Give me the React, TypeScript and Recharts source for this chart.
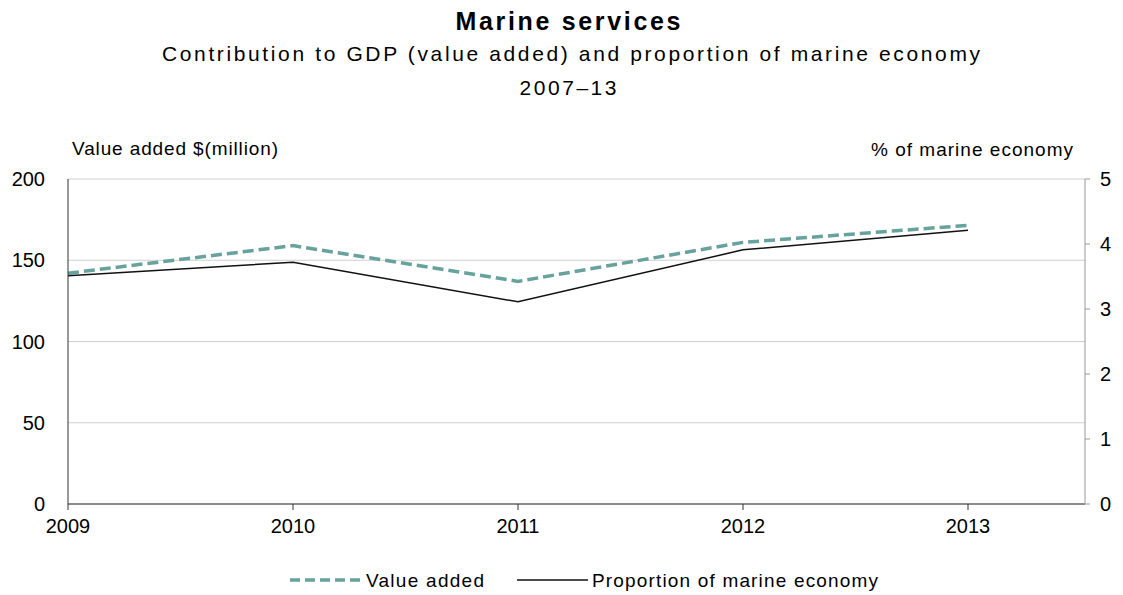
import { CartesianGrid, Line, LineChart, XAxis, YAxis } from "recharts";

const years = [2009, 2010, 2011, 2012, 2013];
const valueAdded = [142, 159, 137, 161, 171.5];
const proportion = [3.51, 3.72, 3.11, 3.91, 4.21];
const leftTicks = [0, 50, 100, 150, 200];
const rightTicks = [0, 1, 2, 3, 4, 5];

const data = years.map((year, i) => ({
  year,
  valueAdded: valueAdded[i],
  proportion: proportion[i]
}));

const font = "'Liberation Sans', Arial, sans-serif";
const teal = "#67a29c";

const Header = () => (
  <svg width={1123} height={170} style={{ position: "absolute", left: 0, top: 0 }}>
    <g fontFamily={font} fill="#000" textAnchor="middle">
      <text x={568} y={30} fontSize={25} fontWeight="bold" textLength={225} lengthAdjust="spacing">
        Marine services
      </text>
      <text x={571} y={61} fontSize={21} textLength={818} lengthAdjust="spacing">
        Contribution to GDP (value added) and proportion of marine economy
      </text>
      <text x={568} y={95} fontSize={21} textLength={97} lengthAdjust="spacing">
        2007–13
      </text>
      <text x={72} y={155} fontSize={19} textAnchor="start" textLength={206} lengthAdjust="spacing">
        Value added $(million)
      </text>
      <text x={1073} y={156} fontSize={19} textAnchor="end" textLength={202} lengthAdjust="spacing">
        % of marine economy
      </text>
    </g>
  </svg>
);

const ChartLegend = () => (
  <svg width={1123} height={40} style={{ position: "absolute", left: 0, top: 560 }}>
    <g fontFamily={font} fontSize={19} fill="#000">
      <line x1={290} x2={363} y1={20} y2={20} stroke={teal} strokeWidth={3.5} strokeDasharray="10 5" />
      <text x={366} y={27} textLength={118} lengthAdjust="spacing">
        Value added
      </text>
      <line x1={517} x2={588} y1={20} y2={20} stroke="#111" strokeWidth={1.5} />
      <text x={592} y={27} textLength={286} lengthAdjust="spacing">
        Proportion of marine economy
      </text>
    </g>
  </svg>
);

export default function App() {
  return (
    <div style={{ position: "absolute", left: 0, top: 0, width: 1123, height: 595, background: "#fff" }}>
      <Header />
      <div style={{ position: "absolute", left: 0, top: 0 }}>
        <LineChart
          width={1123}
          height={595}
          data={data}
          margin={{ top: 179, right: 0, bottom: 61, left: 0 }}
        >
          <CartesianGrid yAxisId="left" vertical={false} stroke="#cfcfcf" strokeWidth={1} />
          <XAxis
            dataKey="year"
            type="number"
            domain={[2009, 2013.52]}
            ticks={years}
            height={30}
            tickSize={6}
            tickMargin={9}
            stroke="#333"
            tick={{ fill: "#000", fontSize: 20, fontFamily: font }}
          />
          <YAxis
            yAxisId="left"
            domain={[0, 200]}
            ticks={leftTicks}
            width={68}
            tickLine={false}
            tickSize={0}
            tickMargin={23}
            stroke="#333"
            tick={{ fill: "#000", fontSize: 20, fontFamily: font }}
          />
          <YAxis
            yAxisId="right"
            orientation="right"
            domain={[0, 5]}
            ticks={rightTicks}
            width={38}
            tickSize={5}
            tickMargin={10}
            stroke="#999"
            tick={{ fill: "#000", fontSize: 20, fontFamily: font }}
          />
          <Line
            yAxisId="left"
            dataKey="valueAdded"
            name="Value added"
            type="linear"
            stroke={teal}
            strokeWidth={3.5}
            strokeDasharray="11 5"
            dot={false}
            isAnimationActive={false}
          />
          <Line
            yAxisId="right"
            dataKey="proportion"
            name="Proportion of marine economy"
            type="linear"
            stroke="#111"
            strokeWidth={1.5}
            dot={false}
            isAnimationActive={false}
          />
        </LineChart>
      </div>
      <ChartLegend />
    </div>
  );
}
